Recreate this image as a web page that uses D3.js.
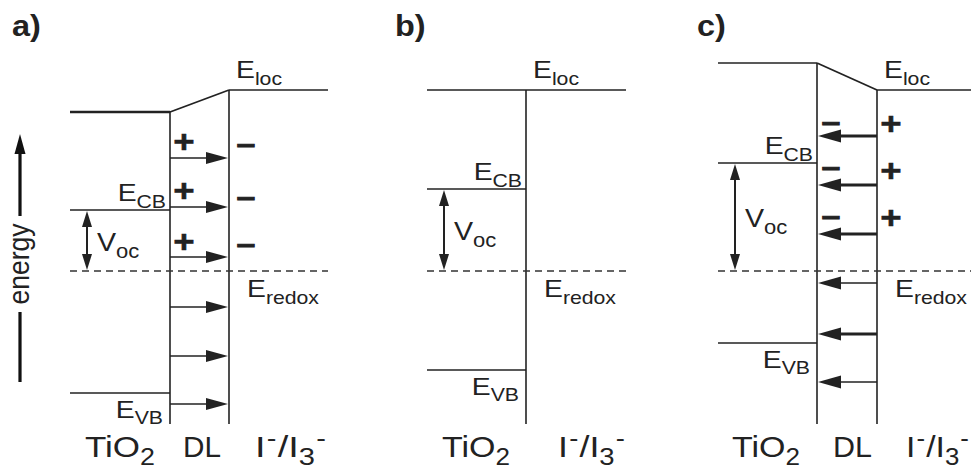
<!DOCTYPE html>
<html><head><meta charset="utf-8">
<script src="https://cdn.jsdelivr.net/npm/d3@7"></script>
<style>html,body{margin:0;padding:0;background:#fff;} svg{display:block;font-family:"Liberation Sans",Arial,Helvetica,sans-serif;}</style>
</head><body><svg id="chart" width="971" height="469"></svg>
<script>
// ---------------- data (energies in arbitrary units, E_redox = 0) ----------------
const panelLabels = ["a)", "b)", "c)"];
const eLocElectrolyte = [1.81, 1.81, 1.81];
const eTiO2Top = [1.59, 1.81, 2.08];
const eCB = [0.61, 0.82, 1.08];
const eRedox = [0, 0, 0];
const eVB = [-1.22, -0.99, -0.72];
const eBottom = -1.53;
const fieldArrowsA = [1.13, 0.64, 0.14, -0.36, -0.85, -1.33];
const fieldArrowsC = [1.35, 0.86, 0.37, -0.12, -0.63, -1.11];
const plusA = [1.30, 0.81, 0.30];
const minusA = [1.26, 0.73, 0.26];
const minusC = [1.48, 1.03, 0.54];
const plusC = [1.48, 1.01, 0.54];
const regionLabels = [["TiO2", "DL", "I-/I3-"], ["TiO2", "I-/I3-"], ["TiO2", "DL", "I-/I3-"]];
const levelLabels = ["E_loc", "E_CB", "E_redox", "E_VB", "V_oc"];
const axisLabel = "energy";

// ---------------- layout ----------------
const layout = [
  {left: 70, dl0: 170, dl1: 229, right: 328, voc: 87, lab: 12,
   reg: [[85, 70], [183, 38], [255, 71]]},
  {left: 427, dl0: 526, dl1: 526, right: 626, voc: 444, lab: 395,
   reg: [[442, 68], [558, 67]]},
  {left: 718, dl0: 817, dl1: 877, right: 975, voc: 735, lab: 697,
   reg: [[732, 68], [833, 39], [906, 63]]}
];
const y = d3.scaleLinear().domain([0, 1]).range([271, 171]);
const ink = "#222";
const SX = 1.18;
const svg = d3.select("#chart");

function tri(tipX, tipY, dir, len, half) {
  let p;
  if (dir === "r") p = [[tipX, tipY], [tipX - len, tipY - half], [tipX - len, tipY + half]];
  if (dir === "l") p = [[tipX, tipY], [tipX + len, tipY - half], [tipX + len, tipY + half]];
  if (dir === "u") p = [[tipX, tipY], [tipX - half, tipY + len], [tipX + half, tipY + len]];
  if (dir === "d") p = [[tipX, tipY], [tipX - half, tipY - len], [tipX + half, tipY - len]];
  return "M" + p.map(q => q.join(",")).join("L") + "Z";
}
function line(g, x1, y1, x2, y2, w, dash) {
  const l = g.append("line").attr("x1", x1).attr("y1", y1).attr("x2", x2).attr("y2", y2)
    .attr("stroke", ink).attr("stroke-width", w);
  if (dash) l.attr("stroke-dasharray", dash);
  return l;
}
// rich text: parts [{t, s:"sub"|"sup"}]
function rich(g, x, yb, parts, size, o) {
  o = o || {};
  const subSize = o.sub || size * 0.76, subDy = o.subDy || 7, supDy = o.supDy || -10;
  const t = g.append("text").attr("transform", `translate(${x},${yb}) scale(${o.sx || SX},1)`)
    .attr("font-size", size).attr("fill", ink).attr("text-anchor", o.anchor || "start");
  if (o.weight) t.attr("font-weight", o.weight);
  let cur = 0;
  parts.forEach(p => {
    let target = 0, fs = size;
    if (p.s === "sub") { target = subDy; fs = subSize; }
    if (p.s === "sup") { target = supDy; fs = subSize; }
    const ts = t.append("tspan").attr("dy", target - cur).attr("font-size", fs).text(p.t);
    if (p.dx) ts.attr("dx", p.dx);
    cur = target;
  });
  return t;
}
function levelParts(name) {
  const [m, s] = name.split("_");
  return [{t: m}, {t: s, s: "sub"}];
}
function regionParts(name) {
  if (name === "TiO2") return [{t: "TiO"}, {t: "2", s: "sub"}];
  if (name === "I-/I3-") return [{t: "I"}, {t: "-", s: "sup", dx: 1}, {t: "/I", dx: 1}, {t: "3", s: "sub"}, {t: "-", s: "sup", dx: 1}];
  return [{t: name}];
}

panelLabels.forEach((pl, i) => {
  const L = layout[i];
  const g = svg.append("g");
  // panel label
  rich(g, L.lab, 36, [{t: pl}], 29, {weight: "bold", sx: 1.12});

  // TiO2 top band
  line(g, L.left, y(eTiO2Top[i]), L.dl0, y(eTiO2Top[i]), i === 0 ? 2.6 : 1.6);
  // slanted DL band and electrolyte level
  if (L.dl1 > L.dl0) line(g, L.dl0, y(eTiO2Top[i]), L.dl1, y(eLocElectrolyte[i]), 1.8);
  line(g, L.dl1, y(eLocElectrolyte[i]), L.right, y(eLocElectrolyte[i]), 1.5);
  // interfaces
  line(g, L.dl0, y(eTiO2Top[i]), L.dl0, y(eBottom), 1.6);
  if (L.dl1 > L.dl0) line(g, L.dl1, y(eLocElectrolyte[i]), L.dl1, y(eBottom), 1.6);
  // CB, VB
  line(g, L.left, y(eCB[i]), L.dl0, y(eCB[i]), 1.5);
  line(g, L.left, y(eVB[i]), L.dl0, y(eVB[i]), 1.5);
  // redox dashed
  line(g, L.left, y(eRedox[i]), L.right, y(eRedox[i]), 1.5, "7,5").attr("stroke", "#333");

  // Voc double arrow
  const yc = y(eCB[i]), yr = y(eRedox[i]);
  line(g, L.voc, yc + 12, L.voc, yr - 12, 2);
  g.append("path").attr("d", tri(L.voc, yc + 1, "u", 16, 5)).attr("fill", ink);
  g.append("path").attr("d", tri(L.voc, yr - 1, "d", 16, 5)).attr("fill", ink);
  rich(g, L.voc + 10, (yc + yr) / 2 + 10, levelParts(levelLabels[4]), 26, {sub: 20, sx: 1.1});

  // level labels
  rich(g, L.dl1 + 7, 78, levelParts(levelLabels[0]), 24, {sub: 18});
  rich(g, L.dl0 - 4, y(eCB[i]) - 9, levelParts(levelLabels[1]), 24, {sub: 18, anchor: "end"});
  rich(g, L.dl1 + 18, y(eRedox[i]) + 26, levelParts(levelLabels[2]), 24, {sub: 18});
  rich(g, L.dl0 - 7, y(eVB[i]) + 25, levelParts(levelLabels[3]), 24, {sub: 18, anchor: "end", subDy: 6});

  // region labels, scaled to their measured widths
  regionLabels[i].forEach((r, k) => {
    const [x0, w] = L.reg[k];
    const t = rich(g, x0, 457, regionParts(r), 30, {sub: 23, subDy: 8, supDy: -11, sx: 1});
    const bw = t.node().getBBox().width;
    t.attr("transform", `translate(${x0},457) scale(${w / bw},1)`);
  });
});

function charge(g, x, yc, sign) {
  const plus = sign === "+";
  g.append("text").attr("transform", `translate(${x},${yc + (plus ? 11 : 8)}) scale(${SX},1)`)
    .attr("text-anchor", "middle").attr("font-size", plus ? 31 : 28).attr("font-weight", "bold")
    .attr("fill", ink).attr("stroke", ink).attr("stroke-width", plus ? 0.5 : 1.1)
    .text(plus ? "+" : "–");
}
// panel a: field arrows to the right, + / - charges
{
  const L = layout[0], g = svg.append("g");
  fieldArrowsA.forEach(e => {
    line(g, L.dl0, y(e), L.dl1 - 18, y(e), 1.6);
    g.append("path").attr("d", tri(L.dl1 - 1, y(e), "r", 22, 6)).attr("fill", ink);
  });
  plusA.forEach(e => charge(g, L.dl0 + 14, y(e), "+"));
  minusA.forEach(e => charge(g, L.dl1 + 17, y(e), "-"));
}
// panel c: field arrows to the left, - / + charges
{
  const L = layout[2], g = svg.append("g");
  const widths = [3, 3, 3, 1.6, 3, 1.6];
  fieldArrowsC.forEach((e, k) => {
    line(g, L.dl1, y(e), L.dl0 + 18, y(e), widths[k]);
    g.append("path").attr("d", tri(L.dl0 + 1, y(e), "l", 23, 6.5)).attr("fill", ink);
  });
  minusC.forEach(e => charge(g, L.dl0 + 14, y(e), "-"));
  plusC.forEach(e => charge(g, L.dl1 + 14, y(e), "+"));
}

// energy axis arrow
{
  const g = svg.append("g");
  line(g, 20, 150, 20, 216, 3.2).attr("stroke", "#111");
  g.append("path").attr("d", tri(20, 134, "u", 20, 5.5)).attr("fill", "#111");
  line(g, 20, 312, 20, 382, 3.2).attr("stroke", "#111");
  g.append("text").attr("transform", "translate(29,264) scale(1.1,1) rotate(-90)").attr("text-anchor", "middle")
    .attr("font-size", 26.5).attr("fill", ink).text(axisLabel);
}
</script></body></html>
